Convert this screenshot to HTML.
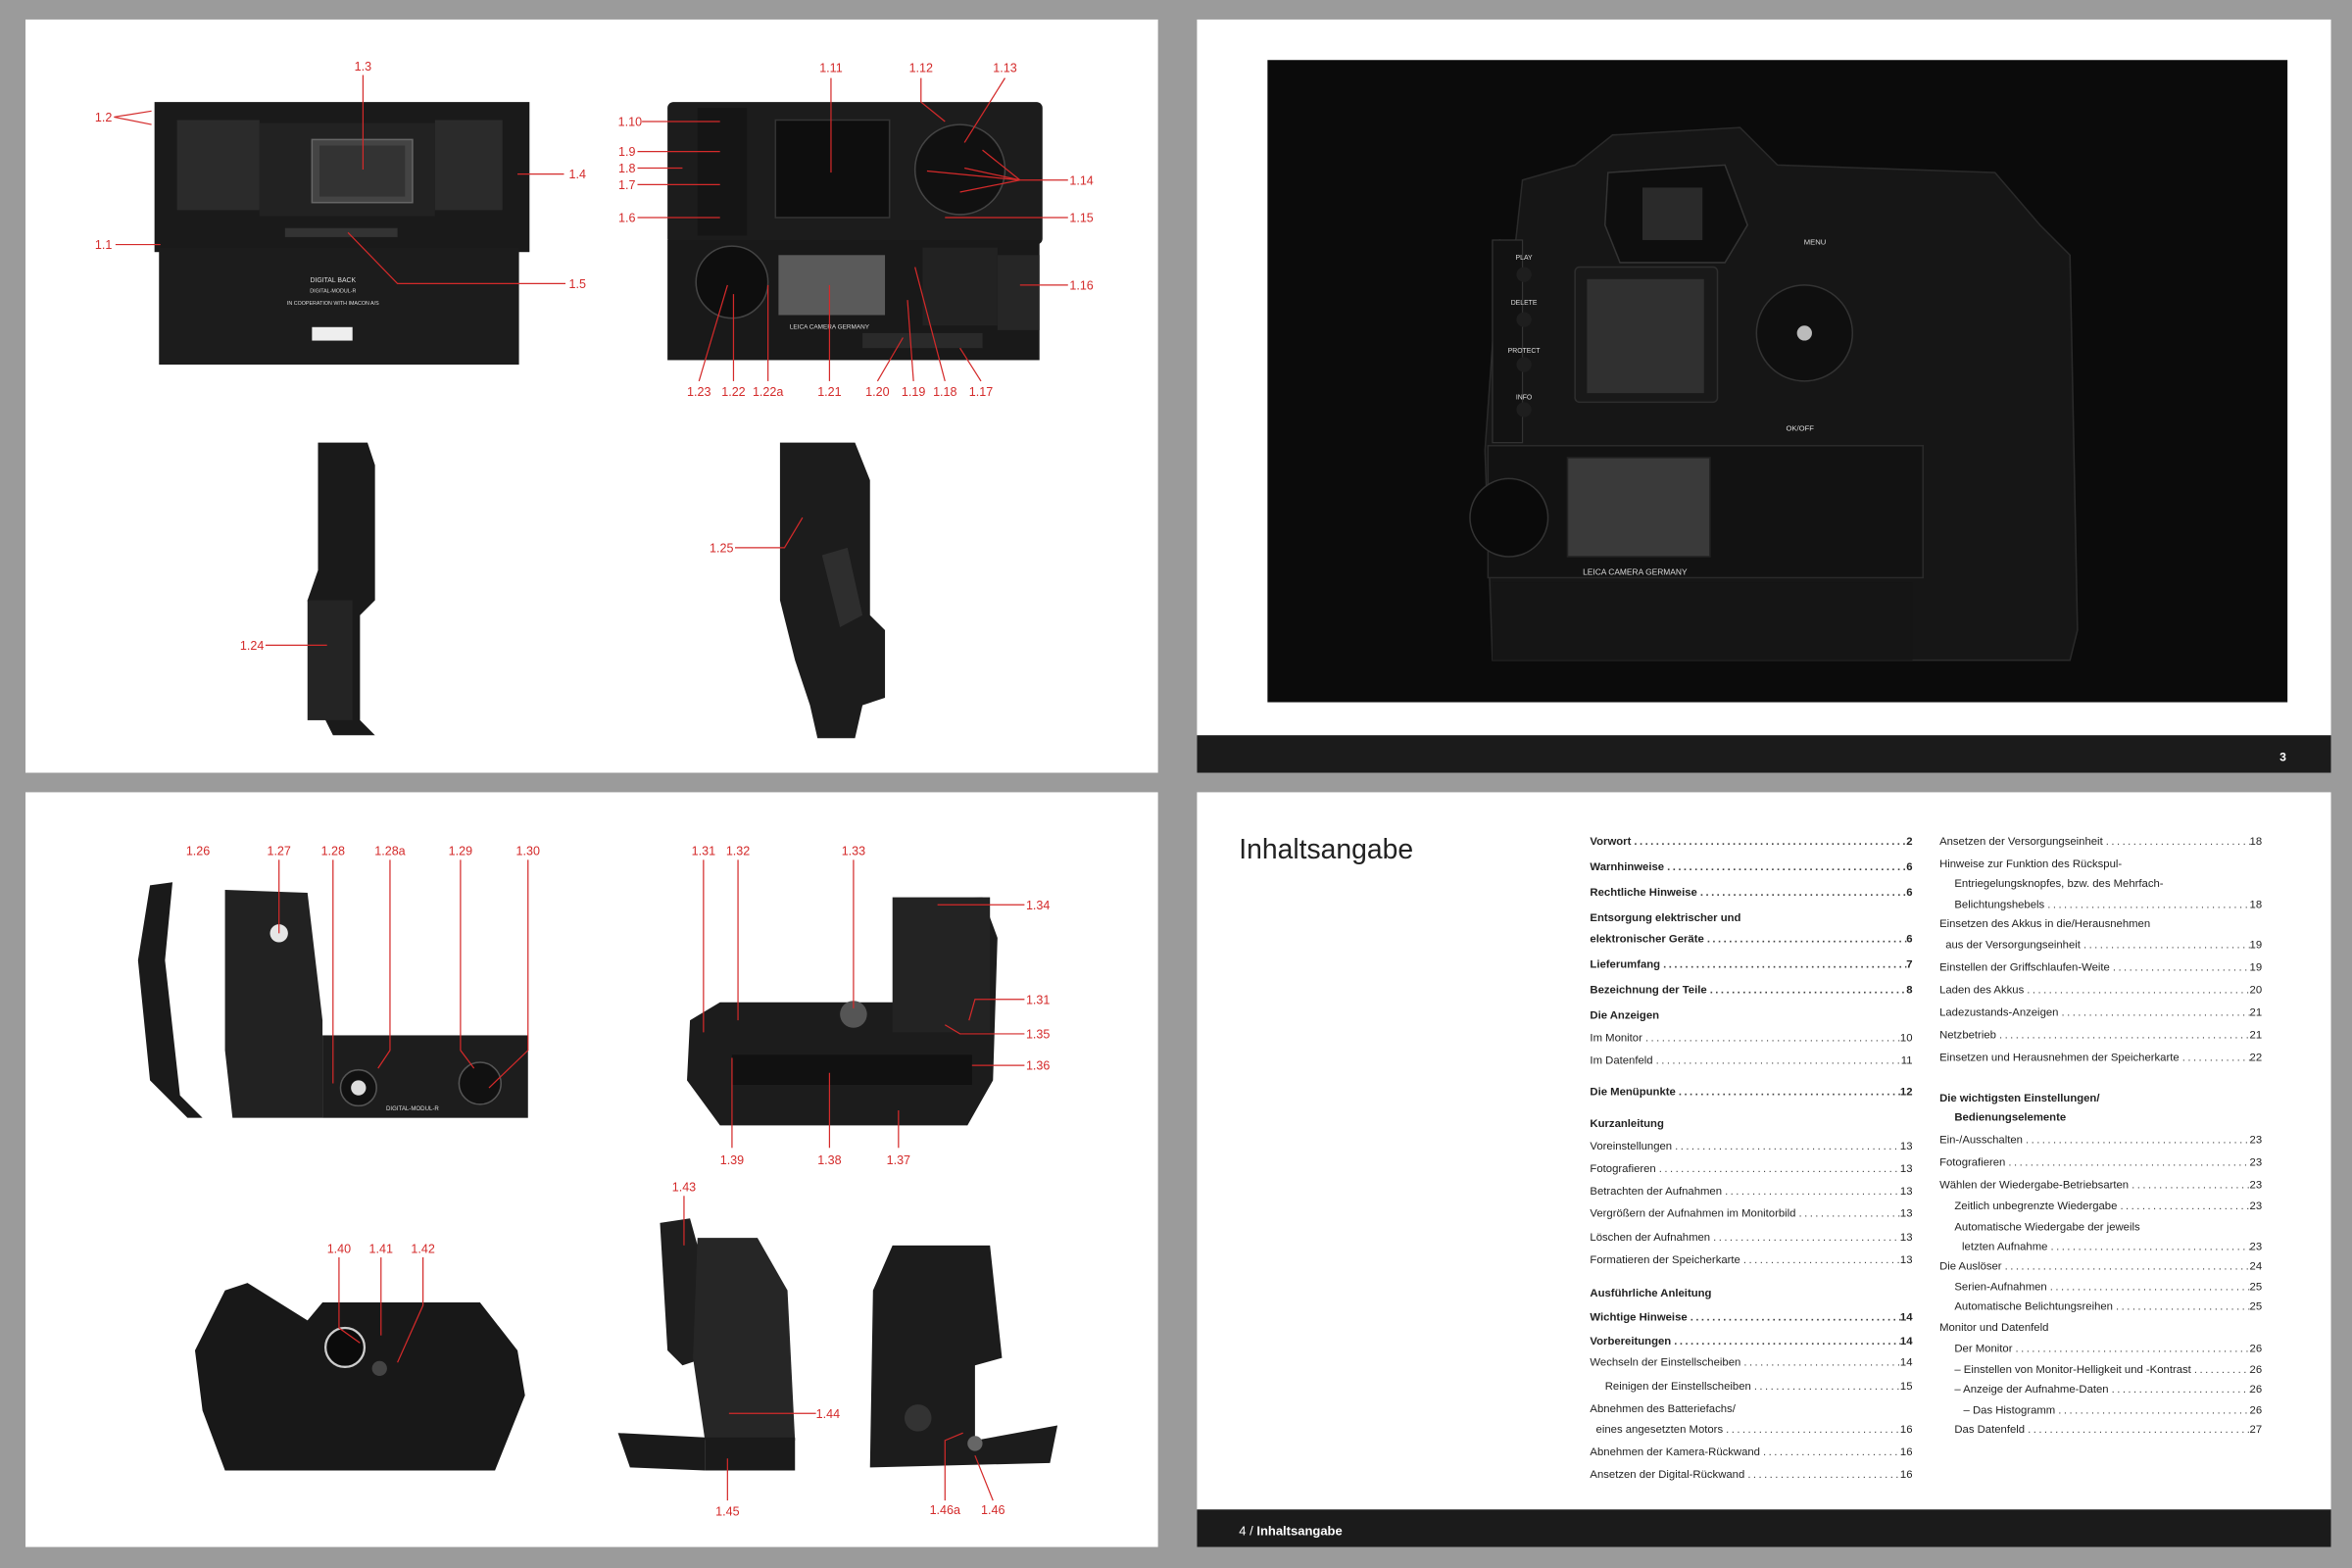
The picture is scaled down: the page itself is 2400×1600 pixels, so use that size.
<!DOCTYPE html>
<html><head><meta charset="utf-8"><style>
html,body{margin:0;padding:0;background:#9b9b9b;width:2400px;height:1600px;overflow:hidden}
#w{position:absolute;left:0;top:0;width:1568px;height:1045px;transform:scale(1.5306,1.5311);transform-origin:0 0;font-family:"Liberation Sans Narrow","Liberation Sans",sans-serif}
svg{position:absolute;left:0;top:0}
.r{position:absolute;display:flex;font-size:7.4px;color:#222;white-space:nowrap;line-height:9px;width:215px}
.r .f{flex:1;overflow:hidden;letter-spacing:1.6px;color:#444;padding:0 2px}
.r .f::before{content:"......................................................................................................"}
.b{font-weight:bold}
.h{position:absolute;font-size:7.4px;color:#222;white-space:nowrap;line-height:9px;font-weight:bold}
</style></head><body><div id="w">
<svg width="1568" height="1045" viewBox="0 0 1568 1045">
<defs><style>.l{fill:#d42a2a;font-size:8.2px;font-family:"Liberation Sans Narrow","Liberation Sans",sans-serif;text-anchor:middle}.k{stroke:#d42a2a;stroke-width:0.8;fill:none}.wt{fill:#ddd;font-family:"Liberation Sans",sans-serif;text-anchor:middle}</style></defs>
<!-- pages -->
<rect x="17" y="13" width="755" height="502" fill="#fff"/>
<rect x="798" y="13" width="756" height="502" fill="#fff"/>
<rect x="17" y="528" width="755" height="503" fill="#fff"/>
<rect x="798" y="528" width="756" height="503" fill="#fff"/>
<rect x="798" y="490" width="756" height="25" fill="#1b1b1b"/>
<text x="1522" y="507" fill="#fff" font-size="8" font-family="Liberation Sans" font-weight="bold" text-anchor="middle">3</text>
<rect x="798" y="1006" width="756" height="25" fill="#1b1b1b"/>
<text x="826" y="1023" fill="#fff" font-size="8.5" font-family="Liberation Sans Narrow,Liberation Sans">4 / <tspan font-weight="bold">Inhaltsangabe</tspan></text>
<text x="826" y="572" fill="#222" font-size="18.5" font-family="Liberation Sans Narrow,Liberation Sans">Inhaltsangabe</text>

<!-- photo -->
<rect x="845" y="40" width="680" height="428" fill="#0b0b0b"/>
<path d="M1010 165 L1015 120 L1050 110 L1075 90 L1160 85 L1185 110 L1330 115 L1360 150 L1380 170 L1385 420 L1380 440 L995 440 L990 300 L1000 160 Z" fill="#161616" stroke="#2a2a2a" stroke-width="1"/>
<path d="M1072 115 L1150 110 L1165 150 L1150 175 L1080 175 L1070 150 Z" fill="#0e0e0e" stroke="#333" stroke-width="1"/>
<rect x="1095" y="125" width="40" height="35" fill="#2a2a2a"/>
<rect x="995" y="160" width="20" height="135" fill="#121212" stroke="#333" stroke-width="0.8"/>
<circle cx="1016" cy="183" r="5" fill="#1e1e1e"/><circle cx="1016" cy="213" r="5" fill="#1e1e1e"/><circle cx="1016" cy="243" r="5" fill="#1e1e1e"/><circle cx="1016" cy="273" r="5" fill="#1e1e1e"/>
<text class="wt" x="1016" y="173" font-size="4.5">PLAY</text><text class="wt" x="1016" y="203" font-size="4.5">DELETE</text><text class="wt" x="1016" y="235" font-size="4.5">PROTECT</text><text class="wt" x="1016" y="266" font-size="4.5">INFO</text>
<rect x="1050" y="178" width="95" height="90" rx="3" fill="#191919" stroke="#2e2e2e"/>
<rect x="1058" y="186" width="78" height="76" fill="#303030"/>
<circle cx="1203" cy="222" r="32" fill="#0f0f0f" stroke="#333"/>
<circle cx="1203" cy="222" r="5" fill="#bbb"/>
<text class="wt" x="1210" y="163" font-size="5">MENU</text><text class="wt" x="1200" y="287" font-size="5">OK/OFF</text>
<rect x="992" y="297" width="290" height="88" fill="#121212" stroke="#2a2a2a"/>
<circle cx="1006" cy="345" r="26" fill="#0a0a0a" stroke="#333"/>
<rect x="1045" y="305" width="95" height="66" fill="#3a3a3a" stroke="#222"/>
<text class="wt" x="1090" y="383" font-size="5.5">LEICA CAMERA GERMANY</text>
<rect x="995" y="388" width="280" height="52" fill="#151515"/>

<!-- TL: digital back -->
<rect x="103" y="68" width="250" height="100" fill="#1a1a1a"/>
<rect x="118" y="80" width="55" height="60" fill="#2b2b2b"/><rect x="290" y="80" width="45" height="60" fill="#2b2b2b"/>
<rect x="173" y="82" width="117" height="62" fill="#222"/>
<rect x="208" y="93" width="67" height="42" fill="#444" stroke="#666"/>
<rect x="213" y="97" width="57" height="34" fill="#333"/>
<rect x="190" y="152" width="75" height="6" fill="#333"/>
<rect x="106" y="165" width="240" height="78" fill="#1c1c1c"/>
<text class="wt" x="222" y="188" font-size="4.5">DIGITAL BACK</text><text class="wt" x="222" y="195" font-size="3.5">DIGITAL-MODUL-R</text><text class="wt" x="222" y="203" font-size="3.5">IN COOPERATION WITH IMACON A/S</text>
<rect x="208" y="218" width="27" height="9" fill="#eee"/>
<!-- TL: back module -->
<rect x="445" y="68" width="250" height="95" rx="4" fill="#1c1c1c"/>
<rect x="465" y="72" width="33" height="85" fill="#151515"/>
<rect x="517" y="80" width="76" height="65" fill="#0e0e0e" stroke="#333"/>
<circle cx="640" cy="113" r="30" fill="#111" stroke="#444"/>
<rect x="445" y="160" width="248" height="80" fill="#191919"/>
<circle cx="488" cy="188" r="24" fill="#0e0e0e" stroke="#444"/>
<rect x="519" y="170" width="71" height="40" fill="#5a5a5a"/>
<rect x="615" y="165" width="50" height="52" fill="#222"/>
<rect x="665" y="170" width="28" height="50" fill="#262626"/>
<text class="wt" x="553" y="219" font-size="4.2">LEICA CAMERA GERMANY</text>
<rect x="575" y="222" width="80" height="10" fill="#2a2a2a"/>
<!-- side views -->
<path d="M212 295 L245 295 L250 310 L250 400 L240 410 L240 480 L250 490 L222 490 L212 470 L205 400 L212 380 Z" fill="#1a1a1a"/>
<rect x="205" y="400" width="30" height="80" fill="#242424"/>
<path d="M520 295 L570 295 L580 320 L580 410 L590 420 L590 465 L575 470 L570 492 L545 492 L540 470 L530 440 L520 400 Z" fill="#1c1c1c"/>
<path d="M548 370 L565 365 L575 410 L560 418 Z" fill="#2e2e2e"/>
<!-- BL: grip module -->
<path d="M100 590 L115 588 L110 640 L120 730 L135 745 L125 745 L100 720 L92 640 Z" fill="#1a1a1a"/>
<path d="M150 593 L205 595 L215 680 L215 745 L155 745 L150 700 Z" fill="#222"/>
<rect x="215" y="690" width="137" height="55" fill="#1d1d1d"/>
<circle cx="239" cy="725" r="12" fill="#111" stroke="#555"/><circle cx="239" cy="725" r="5" fill="#ddd"/>
<circle cx="320" cy="722" r="14" fill="#111" stroke="#555"/>
<circle cx="186" cy="622" r="6" fill="#e6e6e6"/>
<text class="wt" x="275" y="740" font-size="4">DIGITAL-MODUL-R</text>
<!-- power unit -->
<path d="M460 680 L480 668 L600 668 L605 600 L655 598 L665 625 L662 720 L645 750 L480 750 L458 720 Z" fill="#1c1c1c"/>
<rect x="595" y="598" width="65" height="90" fill="#232323"/>
<rect x="488" y="703" width="160" height="20" fill="#111"/>
<circle cx="569" cy="676" r="9" fill="#555"/>
<!-- bottom view -->
<path d="M150 860 L165 855 L205 880 L215 868 L320 868 L345 900 L350 930 L330 980 L150 980 L135 940 L130 900 Z" fill="#181818"/>
<circle cx="230" cy="898" r="13" fill="#0b0b0b" stroke="#ccc" stroke-width="1.5"/>
<circle cx="253" cy="912" r="5" fill="#444"/>
<!-- grip side -->
<path d="M440 815 L460 812 L465 830 L470 905 L455 910 L445 900 Z" fill="#1e1e1e"/>
<path d="M465 825 L505 825 L525 860 L530 960 L470 960 L462 905 Z" fill="#262626"/>
<path d="M412 955 L470 958 L470 980 L420 978 Z" fill="#1a1a1a"/>
<rect x="470" y="958" width="60" height="22" fill="#1a1a1a"/>
<path d="M595 830 L660 830 L668 905 L650 910 L650 960 L705 950 L700 975 L580 978 L582 860 Z" fill="#1c1c1c"/>
<circle cx="612" cy="945" r="9" fill="#333"/><circle cx="650" cy="962" r="5" fill="#666"/>

<!-- red labels TL -->
<g class="k">
<path d="M242 50 V113"/><path d="M76 78 L101 74 M76 78 L101 83"/><path d="M376 116 H345"/><path d="M77 163 H107"/><path d="M377 189 H265 L232 155"/>
<path d="M428 81 H480 M425 101 H480 M425 112 H455 M425 123 H480 M425 145 H480"/>
<path d="M554 52 V115"/><path d="M614 52 V68 L630 81"/><path d="M670 52 L643 95"/>
<path d="M712 120 H680 L655 100 M680 120 L643 112 M680 120 L618 114 M680 120 L640 128"/>
<path d="M712 145 H630"/><path d="M712 190 H680"/>
<path d="M466 254 L485 190"/><path d="M489 254 V196"/><path d="M512 254 V190"/><path d="M553 254 V190"/><path d="M585 254 L602 225"/><path d="M609 254 L605 200"/><path d="M630 254 L610 178"/><path d="M654 254 L640 232"/>
<path d="M177 430 H218"/><path d="M490 365 H523 L535 345"/>
</g>
<g class="l">
<text x="242" y="47">1.3</text><text x="69" y="81">1.2</text><text x="385" y="119">1.4</text><text x="69" y="166">1.1</text><text x="385" y="192">1.5</text>
<text x="554" y="48">1.11</text><text x="614" y="48">1.12</text><text x="670" y="48">1.13</text>
<text x="420" y="84">1.10</text><text x="418" y="104">1.9</text><text x="418" y="115">1.8</text><text x="418" y="126">1.7</text><text x="418" y="148">1.6</text>
<text x="721" y="123">1.14</text><text x="721" y="148">1.15</text><text x="721" y="193">1.16</text>
<text x="466" y="264">1.23</text><text x="489" y="264">1.22</text><text x="512" y="264">1.22a</text><text x="553" y="264">1.21</text><text x="585" y="264">1.20</text><text x="609" y="264">1.19</text><text x="630" y="264">1.18</text><text x="654" y="264">1.17</text>
<text x="168" y="433">1.24</text><text x="481" y="368">1.25</text>
</g>
<!-- red labels BL -->
<g class="k">
<path d="M186 573 V622"/><path d="M222 573 V722"/><path d="M260 573 V700 L252 712"/><path d="M307 573 V700 L316 712"/><path d="M352 573 V700 L326 725"/>
<path d="M469 573 V688"/><path d="M492 573 V680"/><path d="M569 573 V672"/>
<path d="M683 603 H625"/><path d="M683 666 H650 L646 680"/><path d="M683 689 H640 L630 683"/><path d="M683 710 H648"/>
<path d="M488 765 V705"/><path d="M553 765 V715"/><path d="M599 765 V740"/>
<path d="M226 838 V885 L240 895"/><path d="M254 838 V890"/><path d="M282 838 V870 L265 908"/>
<path d="M456 797 V830"/><path d="M544 942 H486"/><path d="M485 1000 V972"/><path d="M630 1000 V960 L642 955"/><path d="M662 1000 L650 970"/>
</g>
<g class="l">
<text x="132" y="570">1.26</text><text x="186" y="570">1.27</text><text x="222" y="570">1.28</text><text x="260" y="570">1.28a</text><text x="307" y="570">1.29</text><text x="352" y="570">1.30</text>
<text x="469" y="570">1.31</text><text x="492" y="570">1.32</text><text x="569" y="570">1.33</text>
<text x="692" y="606">1.34</text><text x="692" y="669">1.31</text><text x="692" y="692">1.35</text><text x="692" y="713">1.36</text>
<text x="488" y="776">1.39</text><text x="553" y="776">1.38</text><text x="599" y="776">1.37</text>
<text x="226" y="835">1.40</text><text x="254" y="835">1.41</text><text x="282" y="835">1.42</text>
<text x="456" y="794">1.43</text><text x="552" y="945">1.44</text><text x="485" y="1010">1.45</text><text x="630" y="1009">1.46a</text><text x="662" y="1009">1.46</text>
</g>
</svg>

<!-- TOC left -->
<div class="r b" style="left:1060px;top:556px"><span>Vorwort</span><span class="f"></span><span>2</span></div>
<div class="r b" style="left:1060px;top:573px"><span>Warnhinweise</span><span class="f"></span><span>6</span></div>
<div class="r b" style="left:1060px;top:590px"><span>Rechtliche Hinweise</span><span class="f"></span><span>6</span></div>
<div class="h" style="left:1060px;top:607px">Entsorgung elektrischer und</div>
<div class="r b" style="left:1060px;top:621px"><span>elektronischer Geräte</span><span class="f"></span><span>6</span></div>
<div class="r b" style="left:1060px;top:638px"><span>Lieferumfang</span><span class="f"></span><span>7</span></div>
<div class="r b" style="left:1060px;top:655px"><span>Bezeichnung der Teile</span><span class="f"></span><span>8</span></div>
<div class="h" style="left:1060px;top:672px">Die Anzeigen</div>
<div class="r" style="left:1060px;top:687px"><span>Im Monitor</span><span class="f"></span><span>10</span></div>
<div class="r" style="left:1060px;top:702px"><span>Im Datenfeld</span><span class="f"></span><span>11</span></div>
<div class="r b" style="left:1060px;top:723px"><span>Die Menüpunkte</span><span class="f"></span><span>12</span></div>
<div class="h" style="left:1060px;top:744px">Kurzanleitung</div>
<div class="r" style="left:1060px;top:759px"><span>Voreinstellungen</span><span class="f"></span><span>13</span></div>
<div class="r" style="left:1060px;top:774px"><span>Fotografieren</span><span class="f"></span><span>13</span></div>
<div class="r" style="left:1060px;top:789px"><span>Betrachten der Aufnahmen</span><span class="f"></span><span>13</span></div>
<div class="r" style="left:1060px;top:804px"><span>Vergrößern der Aufnahmen im Monitorbild</span><span class="f"></span><span>13</span></div>
<div class="r" style="left:1060px;top:820px"><span>Löschen der Aufnahmen</span><span class="f"></span><span>13</span></div>
<div class="r" style="left:1060px;top:835px"><span>Formatieren der Speicherkarte</span><span class="f"></span><span>13</span></div>
<div class="h" style="left:1060px;top:857px">Ausführliche Anleitung</div>
<div class="r b" style="left:1060px;top:873px"><span>Wichtige Hinweise</span><span class="f"></span><span>14</span></div>
<div class="r b" style="left:1060px;top:889px"><span>Vorbereitungen</span><span class="f"></span><span>14</span></div>
<div class="r" style="left:1060px;top:903px"><span>Wechseln der Einstellscheiben</span><span class="f"></span><span>14</span></div>
<div class="r" style="left:1070px;top:919px;width:205px"><span>Reinigen der Einstellscheiben</span><span class="f"></span><span>15</span></div>
<div class="h" style="left:1060px;top:934px;font-weight:normal">Abnehmen des Batteriefachs/</div>
<div class="r" style="left:1064px;top:948px;width:211px"><span>eines angesetzten Motors</span><span class="f"></span><span>16</span></div>
<div class="r" style="left:1060px;top:963px"><span>Abnehmen der Kamera-Rückwand</span><span class="f"></span><span>16</span></div>
<div class="r" style="left:1060px;top:978px"><span>Ansetzen der Digital-Rückwand</span><span class="f"></span><span>16</span></div>
<!-- TOC right -->
<div class="r" style="left:1293px;top:556px"><span>Ansetzen der Versorgungseinheit</span><span class="f"></span><span>18</span></div>
<div class="h" style="left:1293px;top:571px;font-weight:normal">Hinweise zur Funktion des Rückspul-</div>
<div class="h" style="left:1303px;top:584px;font-weight:normal">Entriegelungsknopfes, bzw. des Mehrfach-</div>
<div class="r" style="left:1303px;top:598px;width:205px"><span>Belichtungshebels</span><span class="f"></span><span>18</span></div>
<div class="h" style="left:1293px;top:611px;font-weight:normal">Einsetzen des Akkus in die/Herausnehmen</div>
<div class="r" style="left:1297px;top:625px;width:211px"><span>aus der Versorgungseinheit</span><span class="f"></span><span>19</span></div>
<div class="r" style="left:1293px;top:640px"><span>Einstellen der Griffschlaufen-Weite</span><span class="f"></span><span>19</span></div>
<div class="r" style="left:1293px;top:655px"><span>Laden des Akkus</span><span class="f"></span><span>20</span></div>
<div class="r" style="left:1293px;top:670px"><span>Ladezustands-Anzeigen</span><span class="f"></span><span>21</span></div>
<div class="r" style="left:1293px;top:685px"><span>Netzbetrieb</span><span class="f"></span><span>21</span></div>
<div class="r" style="left:1293px;top:700px"><span>Einsetzen und Herausnehmen der Speicherkarte</span><span class="f"></span><span>22</span></div>
<div class="h" style="left:1293px;top:727px">Die wichtigsten Einstellungen/</div>
<div class="h" style="left:1303px;top:740px">Bedienungselemente</div>
<div class="r" style="left:1293px;top:755px"><span>Ein-/Ausschalten</span><span class="f"></span><span>23</span></div>
<div class="r" style="left:1293px;top:770px"><span>Fotografieren</span><span class="f"></span><span>23</span></div>
<div class="r" style="left:1293px;top:785px"><span>Wählen der Wiedergabe-Betriebsarten</span><span class="f"></span><span>23</span></div>
<div class="r" style="left:1303px;top:799px;width:205px"><span>Zeitlich unbegrenzte Wiedergabe</span><span class="f"></span><span>23</span></div>
<div class="h" style="left:1303px;top:813px;font-weight:normal">Automatische Wiedergabe der jeweils</div>
<div class="r" style="left:1308px;top:826px;width:200px"><span>letzten Aufnahme</span><span class="f"></span><span>23</span></div>
<div class="r" style="left:1293px;top:839px"><span>Die Auslöser</span><span class="f"></span><span>24</span></div>
<div class="r" style="left:1303px;top:853px;width:205px"><span>Serien-Aufnahmen</span><span class="f"></span><span>25</span></div>
<div class="r" style="left:1303px;top:866px;width:205px"><span>Automatische Belichtungsreihen</span><span class="f"></span><span>25</span></div>
<div class="h" style="left:1293px;top:880px;font-weight:normal">Monitor und Datenfeld</div>
<div class="r" style="left:1303px;top:894px;width:205px"><span>Der Monitor</span><span class="f"></span><span>26</span></div>
<div class="r" style="left:1303px;top:908px;width:205px"><span>– Einstellen von Monitor-Helligkeit und -Kontrast</span><span class="f"></span><span>26</span></div>
<div class="r" style="left:1303px;top:921px;width:205px"><span>– Anzeige der Aufnahme-Daten</span><span class="f"></span><span>26</span></div>
<div class="r" style="left:1309px;top:935px;width:199px"><span>– Das Histogramm</span><span class="f"></span><span>26</span></div>
<div class="r" style="left:1303px;top:948px;width:205px"><span>Das Datenfeld</span><span class="f"></span><span>27</span></div>
</div></body></html>
